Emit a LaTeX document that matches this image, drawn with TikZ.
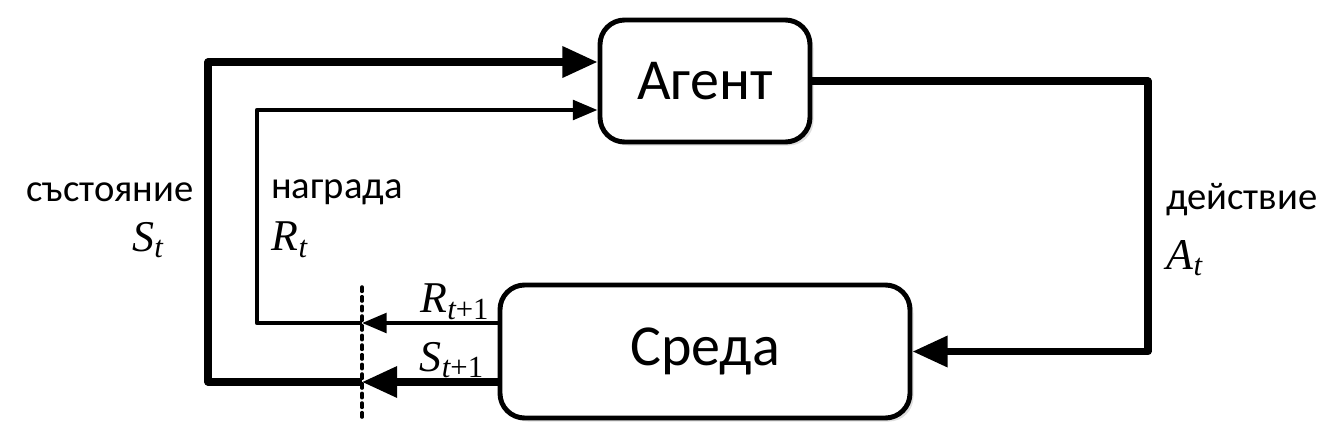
\documentclass[tikz,border=0pt]{standalone}
\usepackage{fontspec}
\usepackage{amsmath}
\setmainfont{Carlito}
\newfontfamily\tms{Liberation Serif}
\usetikzlibrary{arrows.meta, shadows, positioning}
\newcommand{\sym}[2]{$\text{\tms\itshape #1}_{\text{\tms #2}}$}

\begin{document}
\begin{tikzpicture}[
    box/.style={draw, line width=2.8pt, rounded corners=14pt, fill=white,
        font=\fontsize{33}{36}\selectfont,
        drop shadow={opacity=0.25, shadow xshift=2pt, shadow yshift=-2pt}},
    heavy/.style={line width=4pt, line join=round, -{Triangle[length=20pt,width=17pt]}},
    light/.style={line width=2.5pt, line join=round, -{Triangle[length=14pt,width=11pt]}},
    lbl/.style={font=\fontsize{22}{24}\selectfont},
    sym/.style={font=\fontsize{25}{27}\selectfont}
]
    \useasboundingbox (0,0) rectangle (26.46,-8.8);

    % Boxes
    \node[box, minimum width=4.2cm, minimum height=2.44cm] (agent) at (14.1,-1.62) {Агент};
    \node[box, minimum width=8.2cm, minimum height=2.66cm] (env) at (14.1,-7.03) {Среда};

    % Cut between time steps
    \coordinate (cutT) at (7.24,-5.74);
    \coordinate (cutB) at (7.24,-8.44);
    \draw[line width=2pt, line cap=round, dash pattern=on 2.5pt off 3pt] (cutT) -- (cutB);

    \coordinate (sOut) at ([yshift=-0.61cm]env.west);
    \coordinate (rOut) at ([yshift=0.57cm]env.west);
    \coordinate (sIn)  at ([yshift=0.38cm]agent.west);
    \coordinate (rIn)  at ([yshift=-0.58cm]agent.west);
    \coordinate (sCut) at (cutT |- sOut);
    \coordinate (rCut) at (cutT |- rOut);
    \coordinate (sLeft) at (4.16,0);
    \coordinate (rLeft) at (5.14,0);
    \coordinate (aRight) at (22.96,-4);

    % Connectors
    \draw[heavy] (sOut) -- (sCut);
    \draw[light] (rOut) -- (rCut);
    \draw[heavy] (sCut) -- (sCut -| sLeft) |- (sIn);
    \draw[light] (rCut) -- (rCut -| rLeft) |- (rIn);
    \draw[heavy] (agent.east) -| (aRight) |- (env.east);

    % Labels
    \node[lbl, anchor=east] (stLbl) at (4.0,-3.84) {състояние};
    \node[sym] (stSym) at (2.96,-4.8) {\sym{S}{\itshape t}};
    \node[lbl, anchor=west] (rwLbl) at (5.3,-3.84) {награда};
    \node[sym] (rwSym) at (5.8,-4.8) {\sym{R}{\itshape t}};
    \node[lbl, anchor=west] (acLbl) at (23.2,-4.0) {действие};
    \node[sym] (acSym) at (23.7,-5.16) {\sym{A}{\itshape t}};
    \node[sym] (rNext) at (9.1,-6.04) {\sym{R}{\itshape t\upshape +1}};
    \node[sym] (sNext) at (9.04,-7.2) {\sym{S}{\itshape t\upshape +1}};
\end{tikzpicture}
\end{document}
